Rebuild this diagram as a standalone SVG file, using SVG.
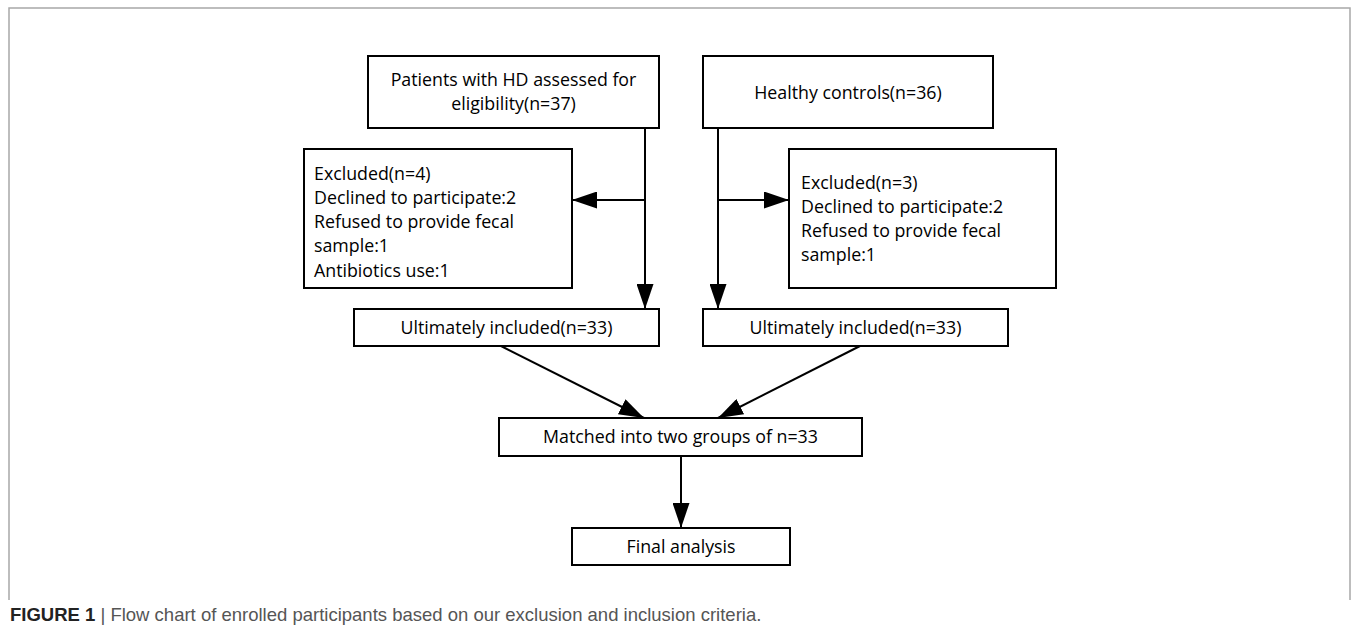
<svg xmlns="http://www.w3.org/2000/svg" width="1355" height="633" viewBox="0 0 1355 633">
<style>
.box{fill:#fff;stroke:#000;stroke-width:2}
.t{font-family:"Open Sans","Liberation Sans",sans-serif;font-size:17.8px;fill:#000}
.c{text-anchor:middle}
.ln{fill:none;stroke:#000;stroke-width:2}
.cap{font-family:"Liberation Sans",Arial,sans-serif;font-size:18.5px;fill:#555}
</style>
<defs>
<marker id="ah" markerUnits="userSpaceOnUse" markerWidth="25" markerHeight="17" refX="25" refY="8.5" orient="auto">
<path d="M0,0 L25,8.5 L0,17 z" fill="#000"/>
</marker>
</defs>
<rect width="1355" height="633" fill="#fff"/>
<path d="M9,600 V8 H1350 V600" fill="none" stroke="#a8a8a8" stroke-width="1.5"/>

<g id="connectors">
<path class="ln" d="M645,128 V309" marker-end="url(#ah)"/>
<path class="ln" d="M645,200 H572" marker-end="url(#ah)"/>
<path class="ln" d="M718,128 V309" marker-end="url(#ah)"/>
<path class="ln" d="M718,200 H789" marker-end="url(#ah)"/>
<path class="ln" d="M501,346 L644,418" marker-end="url(#ah)"/>
<path class="ln" d="M860,346 L718,418" marker-end="url(#ah)"/>
<path class="ln" d="M681,456 V528" marker-end="url(#ah)"/>
</g>

<g id="patients">
<rect class="box" x="368" y="56" width="291" height="72"/>
<text class="t c" x="513.5" y="86">Patients with HD assessed for</text>
<text class="t c" x="513.5" y="110">eligibility(n=37)</text>
</g>
<g id="healthy">
<rect class="box" x="703" y="56" width="290" height="72"/>
<text class="t c" x="848" y="99">Healthy controls(n=36)</text>
</g>
<g id="excluded-left">
<rect class="box" x="304" y="149" width="268" height="139"/>
<text class="t" x="314" y="180">Excluded(n=4)</text>
<text class="t" x="314" y="204">Declined to participate:2</text>
<text class="t" x="314" y="228">Refused to provide fecal</text>
<text class="t" x="314" y="252">sample:1</text>
<text class="t" x="314" y="277">Antibiotics use:1</text>
</g>
<g id="excluded-right">
<rect class="box" x="789" y="149" width="267" height="139"/>
<text class="t" x="801" y="189">Excluded(n=3)</text>
<text class="t" x="801" y="213">Declined to participate:2</text>
<text class="t" x="801" y="237">Refused to provide fecal</text>
<text class="t" x="801" y="261">sample:1</text>
</g>
<g id="included-left">
<rect class="box" x="354" y="309" width="305" height="37"/>
<text class="t c" x="506.5" y="334">Ultimately included(n=33)</text>
</g>
<g id="included-right">
<rect class="box" x="703" y="309" width="305" height="37"/>
<text class="t c" x="855.5" y="334">Ultimately included(n=33)</text>
</g>
<g id="matched">
<rect class="box" x="499" y="418" width="363" height="38"/>
<text class="t c" x="680.5" y="443">Matched into two groups of n=33</text>
</g>
<g id="final">
<rect class="box" x="572" y="528" width="218" height="37"/>
<text class="t c" x="681" y="553">Final analysis</text>
</g>

<text class="cap" x="10" y="621"><tspan font-weight="bold" fill="#222">FIGURE 1</tspan> | Flow chart of enrolled participants based on our exclusion and inclusion criteria.</text>
</svg>
